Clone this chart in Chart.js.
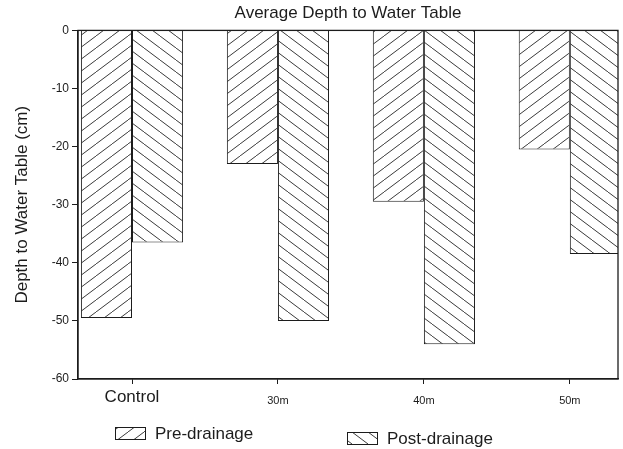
<!DOCTYPE html>
<html>
<head>
<meta charset="utf-8">
<script src="https://cdn.jsdelivr.net/npm/chart.js@4.4.1/dist/chart.umd.min.js"></script>
<style>
  html, body { margin: 0; padding: 0; background: #fff; }
  #wrap { width: 623px; height: 449px; }
</style>
</head>
<body>
<div id="wrap"><canvas id="theCanvas"></canvas></div>
<script>
// values (cm below surface)
var categories = ['Control', '30m', '40m', '50m'];
var preDrainage = [-49.5, -23, -29.5, -20.5];
var postDrainage = [-36.5, -50, -54, -38.5];
var seriesNames = ['Pre-drainage', 'Post-drainage'];
var depthMin = -60;
var depthMax = 0;

var ink = '#1c1c1c';
Chart.defaults.font.family = '"Liberation Sans", Arial, sans-serif';
Chart.defaults.color = ink;

var canvas = document.getElementById('theCanvas');
var ctx = canvas.getContext('2d');

// diagonal hatch fill like the printed figure (lines a bit flatter than 45deg)
function hatch(dir) {
    var w = 16, h = 12;
    var c = document.createElement('canvas');
    c.width = w; c.height = h;
    var g = c.getContext('2d');
    g.fillStyle = '#fff';
    g.fillRect(0, 0, w, h);
    g.strokeStyle = '#3a3a3a';
    g.lineWidth = 1;
    g.beginPath();
    if (dir === '/') {
        g.moveTo(-w, 2 * h); g.lineTo(2 * w, -h);
    } else {
        g.moveTo(-w, -h); g.lineTo(2 * w, 2 * h);
    }
    g.stroke();
    return ctx.createPattern(c, 'repeat');
}

function points(vals) {
    var out = [];
    for (var i = 0; i < vals.length; i++) {
        out.push({x: i, y: vals[i]});
    }
    return out;
}

// box round the plot area
var frame = {
    id: 'frame',
    afterDatasetsDraw: function(chart) {
        var a = chart.chartArea;
        var c = chart.ctx;
        c.save();
        c.strokeStyle = ink;
        c.lineWidth = 1.3;
        c.strokeRect(a.left, a.top, a.right - a.left, a.bottom - a.top);
        c.restore();
    }
};

// legend sits loosely under the axis, so draw it by hand
var hatchLegend = {
    id: 'hatchLegend',
    afterDraw: function(chart) {
        var c = chart.ctx;
        var spots = [{x: 115, y: 427}, {x: 347, y: 432}];
        c.save();
        c.font = '17px "Liberation Sans", Arial, sans-serif';
        c.textBaseline = 'middle';
        chart.data.datasets.forEach(function(ds, i) {
            var p = spots[i];
            c.fillStyle = ds.backgroundColor;
            c.fillRect(p.x, p.y, 30, 12);
            c.strokeStyle = ink;
            c.lineWidth = 1;
            c.strokeRect(p.x + 0.5, p.y + 0.5, 30, 12);
            c.fillStyle = ink;
            c.fillText(ds.label, p.x + 40, p.y + 7);
        });
        c.restore();
    }
};

var myChart = new Chart(ctx, {
    type: 'bar',
    data: {
        datasets: [{
            label: seriesNames[0],
            data: points(preDrainage),
            backgroundColor: hatch('/'),
            borderColor: ink,
            borderWidth: 1
        }, {
            label: seriesNames[1],
            data: points(postDrainage),
            backgroundColor: hatch('\\'),
            borderColor: ink,
            borderWidth: 1
        }]
    },
    options: {
        animation: false,
        responsive: true,
        maintainAspectRatio: false,
        categoryPercentage: 0.7,
        barPercentage: 1,
        layout: {padding: {left: 0, right: 5, top: 0, bottom: 40}},
        plugins: {
            legend: {display: false},
            tooltip: {enabled: false},
            title: {
                display: true,
                text: 'Average Depth to Water Table',
                fullSize: false,
                color: ink,
                font: {size: 17, weight: 'normal'},
                padding: {top: 3, bottom: 7}
            }
        },
        scales: {
            x: {
                type: 'linear',
                min: -0.37,
                max: categories.length - 1 + 0.33,
                offset: false,
                grid: {drawOnChartArea: false, offset: false, tickLength: 5, color: ink},
                border: {color: ink, width: 1.3},
                ticks: {
                    stepSize: 1,
                    includeBounds: false,
                    padding: 4,
                    color: ink,
                    font: function(c) {
                        return c.tick && c.tick.value === 0
                            ? {size: 17, lineHeight: 1.1}
                            : {size: 11, lineHeight: 2.4};
                    },
                    callback: function(value) {
                        return categories[value];
                    }
                },
                afterFit: function(scale) { scale.height = 30; }
            },
            y: {
                min: depthMin,
                max: depthMax,
                grid: {drawOnChartArea: false, tickLength: 6, color: ink},
                border: {color: ink, width: 1.3},
                ticks: {stepSize: 10, padding: 3, color: ink, font: {size: 12}},
                title: {
                    display: true,
                    text: 'Depth to Water Table (cm)',
                    color: ink,
                    font: {size: 17},
                    padding: {top: 12, bottom: 0}
                },
                afterFit: function(scale) { scale.width = 78; }
            }
        }
    },
    plugins: [frame, hatchLegend]
});
</script>
</body>
</html>
